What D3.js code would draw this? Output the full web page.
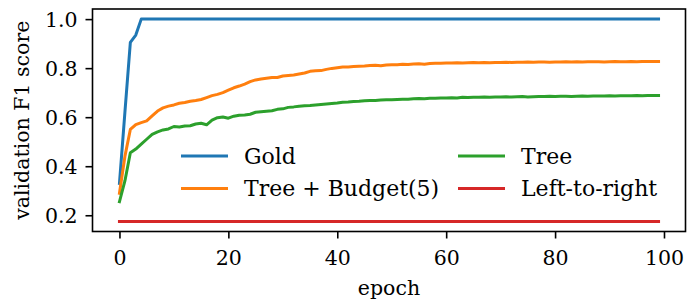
<!DOCTYPE html>
<html>
<head>
<meta charset="utf-8">
<script src="https://cdn.jsdelivr.net/npm/d3@7"></script>
<style>
	body { margin: 0; background: #fff; }
	svg { display: block; font-family: "DejaVu Serif", serif; }
</style>
</head>
<body>
<div id="chart"></div>
<script>

// epochs 0..99
const epochs = d3.range(100);

const gold = [0.33, 0.62, 0.905, 0.935,
	1, 1, 1, 1, 1, 1, 1, 1, 1, 1, 1, 1, 1, 1, 1, 1, 1, 1, 1, 1, 1, 1, 1, 1, 1, 1, 1, 1,
	1, 1, 1, 1, 1, 1, 1, 1, 1, 1, 1, 1, 1, 1, 1, 1, 1, 1, 1, 1, 1, 1, 1, 1, 1, 1, 1, 1,
	1, 1, 1, 1, 1, 1, 1, 1, 1, 1, 1, 1, 1, 1, 1, 1, 1, 1, 1, 1, 1, 1, 1, 1, 1, 1, 1, 1,
	1, 1, 1, 1, 1, 1, 1, 1, 1, 1, 1, 1];

const treeBudget = [0.29, 0.44, 0.55, 0.57, 0.578, 0.585, 0.605, 0.625, 0.638, 0.645,
	0.65, 0.657, 0.66, 0.665, 0.668, 0.672, 0.68, 0.688, 0.693, 0.70,
	0.71, 0.72, 0.727, 0.735, 0.745, 0.752, 0.756, 0.759, 0.762, 0.762,
	0.768, 0.77, 0.772, 0.776, 0.78, 0.787, 0.789, 0.79, 0.795, 0.799,
	0.802, 0.805, 0.805, 0.807, 0.808, 0.809, 0.811, 0.812, 0.81, 0.813,
	0.814, 0.814, 0.816, 0.815, 0.817, 0.818, 0.816, 0.819, 0.82, 0.82,
	0.821, 0.821, 0.822, 0.821, 0.822, 0.823, 0.822, 0.823, 0.822, 0.823,
	0.823, 0.824, 0.823, 0.824, 0.824, 0.825, 0.824, 0.825, 0.825, 0.824,
	0.825, 0.825, 0.826, 0.825, 0.826, 0.825, 0.826, 0.826, 0.826, 0.825,
	0.826, 0.827, 0.826, 0.826, 0.827, 0.826, 0.827, 0.827, 0.827, 0.827];

const tree = [0.255, 0.34, 0.455, 0.47, 0.49, 0.51, 0.53, 0.54, 0.548, 0.552,
	0.562, 0.56, 0.564, 0.565, 0.572, 0.575, 0.569, 0.588, 0.598, 0.601,
	0.596, 0.604, 0.608, 0.609, 0.612, 0.62, 0.622, 0.624, 0.626, 0.632,
	0.634, 0.64, 0.642, 0.645, 0.647, 0.648, 0.65, 0.652, 0.654, 0.656,
	0.658, 0.661, 0.662, 0.664, 0.665, 0.667, 0.668, 0.668, 0.67, 0.671,
	0.671, 0.672, 0.673, 0.673, 0.675, 0.676, 0.675, 0.677, 0.677, 0.678,
	0.678, 0.679, 0.678, 0.681, 0.68, 0.681, 0.681, 0.682, 0.681, 0.682,
	0.682, 0.683, 0.682, 0.683, 0.684, 0.682, 0.683, 0.684, 0.684, 0.685,
	0.684, 0.685, 0.685, 0.684, 0.685, 0.686, 0.685, 0.686, 0.686, 0.686,
	0.687, 0.686, 0.687, 0.687, 0.687, 0.688, 0.687, 0.688, 0.688, 0.688];

const leftToRight = [0.175, 0.175, 0.175, 0.175, 0.175, 0.175, 0.175, 0.175, 0.175, 0.175,
	0.175, 0.175, 0.175, 0.175, 0.175, 0.175, 0.175, 0.175, 0.175, 0.175,
	0.175, 0.175, 0.175, 0.175, 0.175, 0.175, 0.175, 0.175, 0.175, 0.175,
	0.175, 0.175, 0.175, 0.175, 0.175, 0.175, 0.175, 0.175, 0.175, 0.175,
	0.175, 0.175, 0.175, 0.175, 0.175, 0.175, 0.175, 0.175, 0.175, 0.175,
	0.175, 0.175, 0.175, 0.175, 0.175, 0.175, 0.175, 0.175, 0.175, 0.175,
	0.175, 0.175, 0.175, 0.175, 0.175, 0.175, 0.175, 0.175, 0.175, 0.175,
	0.175, 0.175, 0.175, 0.175, 0.175, 0.175, 0.175, 0.175, 0.175, 0.175,
	0.175, 0.175, 0.175, 0.175, 0.175, 0.175, 0.175, 0.175, 0.175, 0.175,
	0.175, 0.175, 0.175, 0.175, 0.175, 0.175, 0.175, 0.175, 0.175, 0.175];

const xTicks = [0, 20, 40, 60, 80, 100];
const yTicks = [0.2, 0.4, 0.6, 0.8, 1.0];

const series = [
	{ name: "Gold", values: gold, color: "#1f77b4" },
	{ name: "Tree + Budget(5)", values: treeBudget, color: "#ff7f0e" },
	{ name: "Tree", values: tree, color: "#2ca02c" },
	{ name: "Left-to-right", values: leftToRight, color: "#d62728" }
];

const W = 687, H = 301;
const plot = { left: 92.5, right: 685.5, top: 9, bottom: 231.5 };

const svg = d3.select("#chart").append("svg")
	.attr("width", W)
	.attr("height", H);

// scales (matplotlib style 5% margins)
const x = d3.scaleLinear().domain([-4.95, 103.95]).range([plot.left, plot.right]);
const y = d3.scaleLinear().domain([0.13375, 1.04125]).range([plot.bottom, plot.top]);

// lines
const line = d3.line()
	.x((d, i) => x(epochs[i]))
	.y(d => y(d));

svg.selectAll(".series")
	.data(series)
	.enter().append("path")
	.attr("class", "series")
	.attr("d", d => line(d.values))
	.attr("fill", "none")
	.attr("stroke", d => d.color)
	.attr("stroke-width", 3)
	.attr("stroke-linejoin", "round")
	.attr("stroke-linecap", "square");

// axes
const xAxis = svg.append("g")
	.attr("transform", `translate(0,${plot.bottom})`)
	.call(d3.axisBottom(x).tickValues(xTicks).tickSize(7).tickPadding(7).tickSizeOuter(0));

xAxis.selectAll("text")
	.attr("dy", null)
	.attr("y", 33.5);

const yAxis = svg.append("g")
	.attr("transform", `translate(${plot.left},0)`)
	.call(d3.axisLeft(y).tickValues(yTicks).tickFormat(d3.format(".1f")).tickSize(7).tickPadding(8).tickSizeOuter(0));

[xAxis, yAxis].forEach(g => {
	g.select(".domain").remove();
	g.selectAll(".tick line").attr("stroke", "#000").attr("stroke-width", 1.6);
	g.selectAll("text")
		.attr("fill", "#000")
		.style("font-size", "20.5px")
		.style("font-family", "DejaVu Serif");
});

yAxis.selectAll("text").attr("dy", "0.36em");

// frame
svg.append("rect")
	.attr("x", plot.left)
	.attr("y", plot.top)
	.attr("width", plot.right - plot.left)
	.attr("height", plot.bottom - plot.top)
	.attr("fill", "none")
	.attr("stroke", "#000")
	.attr("stroke-width", 1.6);

// axis labels
svg.append("text")
	.attr("x", (plot.left + plot.right) / 2)
	.attr("y", 295)
	.attr("text-anchor", "middle")
	.style("font-size", "20.5px")
	.text("epoch");

svg.append("text")
	.attr("transform", `translate(28.5,${(plot.top + plot.bottom) / 2}) rotate(-90)`)
	.attr("text-anchor", "middle")
	.style("font-size", "20.5px")
	.text("validation F1 score");

// legend, two columns
const legendPos = [
	{ x: 181, y: 156 },
	{ x: 181, y: 188.5 },
	{ x: 458, y: 156 },
	{ x: 458, y: 188.5 }
];

const legend = svg.selectAll(".legend-item")
	.data(series)
	.enter().append("g")
	.attr("class", "legend-item")
	.attr("transform", (d, i) => `translate(${legendPos[i].x},${legendPos[i].y})`);

legend.append("line")
	.attr("x1", 0)
	.attr("x2", 47)
	.attr("stroke", d => d.color)
	.attr("stroke-width", 3)
	.attr("stroke-linecap", "butt");

legend.append("text")
	.attr("x", 63)
	.attr("y", 7.8)
	.style("font-size", "22px")
	.text(d => d.name);

</script>
</body>
</html>
